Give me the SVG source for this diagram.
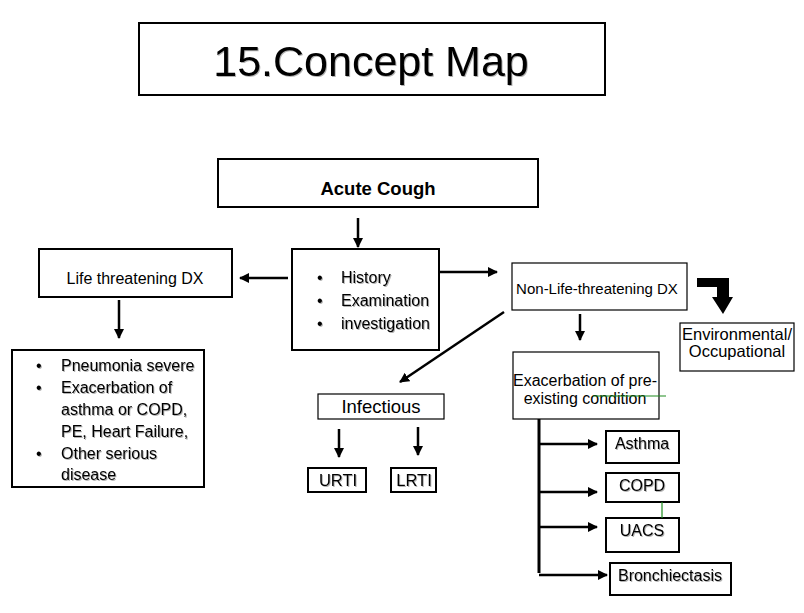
<svg xmlns="http://www.w3.org/2000/svg" width="804" height="613" viewBox="0 0 804 613">
<defs>
<marker id="ah" viewBox="0 0 10 10" refX="9" refY="5" markerWidth="4" markerHeight="4" markerUnits="strokeWidth" orient="auto">
<path d="M0,0 L10,5 L0,10 z" fill="#000"/>
</marker>
<filter id="sh" x="-5%" y="-20%" width="110%" height="140%">
<feDropShadow dx="1" dy="1" stdDeviation="0.6" flood-color="#000" flood-opacity="0.3"/>
</filter>
</defs>
<style>
text{font-family:"Liberation Sans",Arial,sans-serif;fill:#000}
.b{fill:#fff;stroke:#000}
.t2{stroke-width:2}
.t1{stroke-width:1.2}
.c{text-anchor:middle}
.arr{stroke:#000;stroke-width:2.5;fill:none;marker-end:url(#ah)}
.g{stroke:#1e8c1e;stroke-width:1.2;fill:none}
</style>
<rect width="804" height="613" fill="#fff"/>

<g id="title">
<rect class="b t2" x="139" y="23" width="466" height="72"/>
<text class="c" x="371" y="76" font-size="43" filter="url(#sh)">15.Concept Map</text>
</g>

<g id="acute-cough">
<rect class="b t2" x="218" y="159" width="320" height="48"/>
<text class="c" x="378" y="195" font-size="18.5" font-weight="bold">Acute Cough</text>
</g>

<g id="history">
<rect class="b t2" x="292" y="249" width="147" height="101"/>
<g font-size="16" filter="url(#sh)">
<text x="317" y="283">•</text><text x="341" y="283">History</text>
<text x="317" y="306">•</text><text x="341" y="306">Examination</text>
<text x="317" y="329">•</text><text x="341" y="329">investigation</text>
</g>
</g>

<g id="life-threatening">
<rect class="b t2" x="39" y="249" width="193" height="48"/>
<text class="c" x="135" y="284" font-size="16">Life threatening DX</text>
</g>

<g id="life-list">
<rect class="b t2" x="12" y="350" width="192" height="137"/>
<g font-size="16" filter="url(#sh)">
<text x="36" y="371">•</text><text x="61" y="371">Pneumonia severe</text>
<text x="36" y="393">•</text><text x="61" y="393">Exacerbation of</text>
<text x="61" y="415">asthma or COPD,</text>
<text x="61" y="437">PE, Heart Failure,</text>
<text x="36" y="459">•</text><text x="61" y="459">Other serious</text>
<text x="61" y="480">disease</text>
</g>
</g>

<g id="non-life">
<rect class="b t1" x="512" y="263" width="175" height="47"/>
<text class="c" x="597" y="294" font-size="15">Non-Life-threatening DX</text>
</g>

<g id="environmental">
<rect class="b t1" x="680" y="323" width="114" height="48"/>
<text class="c" x="737" y="340" font-size="16.5">Environmental/</text>
<text class="c" x="737" y="357" font-size="16.5">Occupational</text>
</g>

<g id="exacerbation">
<rect class="b t1" x="513" y="352" width="146" height="67"/>
<text class="c" x="585" y="386" font-size="16">Exacerbation of pre-</text>
<text class="c" x="585" y="404" font-size="16">existing condition</text>
</g>

<g id="infectious">
<rect class="b t1" x="318" y="394" width="126" height="25"/>
<text class="c" x="381" y="413" font-size="18.5">Infectious</text>
</g>

<g id="urti">
<rect class="b t2" x="308" y="468" width="58" height="24"/>
<text class="c" x="338" y="486" font-size="16.5" filter="url(#sh)">URTI</text>
</g>

<g id="lrti">
<rect class="b t2" x="391" y="468" width="45" height="24"/>
<text class="c" x="414" y="486" font-size="16.5" filter="url(#sh)">LRTI</text>
</g>

<g id="asthma">
<rect class="b t2" x="606" y="431" width="73" height="32"/>
<text class="c" x="642" y="449" font-size="16" filter="url(#sh)">Asthma</text>
</g>

<g id="copd">
<rect class="b t2" x="606" y="473" width="73" height="29"/>
<text class="c" x="642" y="491" font-size="16" filter="url(#sh)">COPD</text>
</g>

<g id="uacs">
<rect class="b t2" x="606" y="518" width="73" height="34"/>
<text class="c" x="642" y="536" font-size="16" filter="url(#sh)">UACS</text>
</g>

<g id="bronchiectasis">
<rect class="b t2" x="610" y="563" width="121" height="32"/>
<text class="c" x="670" y="581" font-size="16" filter="url(#sh)">Bronchiectasis</text>
</g>

<g id="connectors">
<line class="arr" x1="358" y1="218" x2="358" y2="247"/>
<line class="arr" x1="288" y1="278" x2="240" y2="278"/>
<line class="arr" x1="119" y1="300" x2="119" y2="338"/>
<line class="arr" x1="439" y1="272" x2="497" y2="272"/>
<line class="arr" x1="580" y1="314" x2="580" y2="340"/>
<line class="arr" x1="504" y1="312" x2="400" y2="382"/>
<line class="arr" x1="339" y1="429" x2="339" y2="457"/>
<line class="arr" x1="418" y1="427" x2="418" y2="455"/>
<path d="M539,419 V573" stroke="#000" stroke-width="3" fill="none"/>
<line class="arr" x1="539" y1="444" x2="597" y2="444"/>
<line class="arr" x1="539" y1="492" x2="597" y2="492"/>
<line class="arr" x1="539" y1="527" x2="597" y2="527"/>
<line class="arr" x1="539" y1="575" x2="607" y2="575"/>
<path d="M697,278 H729 V297 H733 L723,314 L712,297 H717 V287 H697 Z" fill="#000"/>
<line class="g" x1="593" y1="396" x2="666" y2="396"/>
<line class="g" x1="662" y1="502" x2="662" y2="518"/>
</g>
</svg>
